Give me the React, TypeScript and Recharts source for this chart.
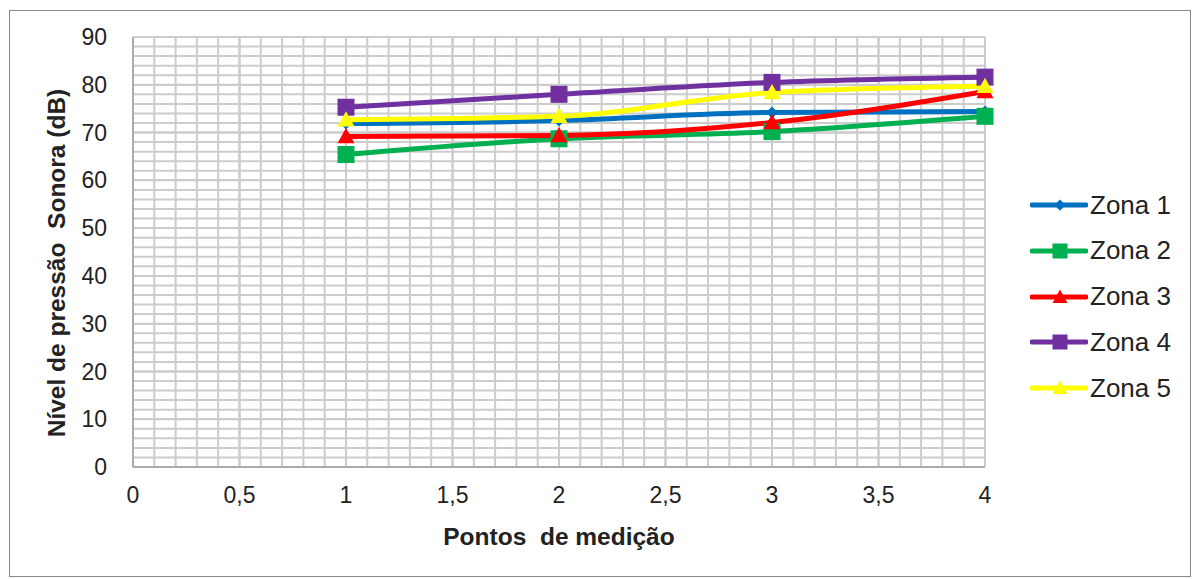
import React from 'react';
import { LineChart, Line, XAxis, YAxis, CartesianGrid, ReferenceLine } from 'recharts';

const points = [1, 2, 3, 4];
const zona1 = [71.9, 72.5, 74.2, 74.4];
const zona2 = [65.4, 68.7, 70.2, 73.4];
const zona3 = [69.2, 69.4, 72.1, 78.6];
const zona4 = [75.3, 78.0, 80.5, 81.6];
const zona5 = [72.7, 73.4, 78.4, 79.7];

const xTicks = [0, 0.5, 1, 1.5, 2, 2.5, 3, 3.5, 4];
const yTicks = [0, 10, 20, 30, 40, 50, 60, 70, 80, 90];
const xMinor = Array.from({ length: 41 }, (_, i) => Math.round(i * 10) / 100);
const yMinor = Array.from({ length: 46 }, (_, i) => i * 2);

const series = [
    { key: 'z1', name: 'Zona 1', color: '#0070C0', shape: 'diamond', values: zona1 },
    { key: 'z2', name: 'Zona 2', color: '#00B050', shape: 'square', values: zona2 },
    { key: 'z3', name: 'Zona 3', color: '#FF0000', shape: 'triangle', values: zona3 },
    { key: 'z4', name: 'Zona 4', color: '#7030A0', shape: 'square', values: zona4 },
    { key: 'z5', name: 'Zona 5', color: '#FFFF00', shape: 'triangle', values: zona5 },
];

const data = points.map((p, i) => {
    const row: Record<string, number> = { x: p };
    series.forEach(s => { row[s.key] = s.values[i]; });
    return row;
});

const FONT = '"Liberation Sans", Arial, sans-serif';

function Marker({ cx, cy, shape, color, size }: { cx: number; cy: number; shape: string; color: string; size: number }) {
    const h = size / 2;
    if (shape === 'square') {
        return <rect x={cx - h} y={cy - h} width={size} height={size} fill={color} />;
    }
    if (shape === 'triangle') {
        return <polygon points={`${cx},${cy - h} ${cx + h},${cy + h * 0.8} ${cx - h},${cy + h * 0.8}`} fill={color} />;
    }
    const d = h * 0.75;
    return <polygon points={`${cx},${cy - d} ${cx + d},${cy} ${cx},${cy + d} ${cx - d},${cy}`} fill={color} />;
}

const fmt = (v: number) => String(v).replace('.', ',');

export default function App() {
    return (
        <div style={{ position: 'absolute', left: 0, top: 0, width: 1197, height: 579, background: '#fff', fontFamily: FONT }}>
            <div style={{ position: 'absolute', left: 9, top: 10, width: 1180, height: 565, border: '1px solid #8a8a8a' }} />
            <LineChart width={1197} height={579} data={data} margin={{ top: 37, right: 212, bottom: 72, left: 73 }}>
                {xMinor.map(v => (
                    <ReferenceLine key={'vx' + v} x={v} stroke="#cccccc" strokeWidth={2} />
                ))}
                {yMinor.map(v => (
                    <ReferenceLine key={'hy' + v} y={v} stroke="#cccccc" strokeWidth={2} />
                ))}
                <CartesianGrid stroke="#8c8c8c" strokeWidth={1.5} />
                <XAxis
                    dataKey="x"
                    type="number"
                    domain={[0, 4]}
                    ticks={xTicks}
                    tickFormatter={fmt}
                    height={40}
                    tickSize={0}
                    tickMargin={20}
                    stroke="#8c8c8c"
                    tick={{ fill: '#222', fontSize: 23, fontFamily: FONT }}
                />
                <YAxis
                    type="number"
                    domain={[0, 90]}
                    ticks={yTicks}
                    width={60}
                    tickSize={0}
                    tickMargin={26}
                    stroke="#8c8c8c"
                    tick={{ fill: '#222', fontSize: 23, fontFamily: FONT }}
                />
                {series.map(s => (
                    <Line
                        key={s.key}
                        type="monotone"
                        dataKey={s.key}
                        name={s.name}
                        stroke={s.color}
                        strokeWidth={5}
                        isAnimationActive={false}
                        dot={(p: any) => (
                            <Marker key={s.key + p.index} cx={p.cx} cy={p.cy} shape={s.shape} color={s.color} size={s.shape === 'diamond' ? 16 : 17} />
                        )}
                        activeDot={false}
                    />
                ))}
            </LineChart>
            <div style={{ position: 'absolute', left: 0, top: 523, width: 1118, textAlign: 'center', fontWeight: 'bold', fontSize: 24.5, color: '#222', whiteSpace: 'pre' }}>
                {'Pontos  de medição'}
            </div>
            <div style={{ position: 'absolute', left: 57, top: 263, transform: 'translate(-50%, -50%) rotate(-90deg)', whiteSpace: 'pre', fontWeight: 'bold', fontSize: 24.5, color: '#222' }}>
                {'Nível de pressão  Sonora (dB)'}
            </div>
            {series.map((s, i) => (
                <div key={s.key} style={{ position: 'absolute', left: 1030, top: 205 + i * 45.8 - 16, height: 32, display: 'flex', alignItems: 'center' }}>
                    <svg width={58} height={32}>
                        <line x1={2} y1={16} x2={56} y2={16} stroke={s.color} strokeWidth={5} strokeLinecap="round" />
                        <Marker cx={30} cy={16} shape={s.shape} color={s.color} size={15} />
                    </svg>
                    <span style={{ fontSize: 26, color: '#222', marginLeft: 2, whiteSpace: 'pre' }}>{s.name}</span>
                </div>
            ))}
        </div>
    );
}
